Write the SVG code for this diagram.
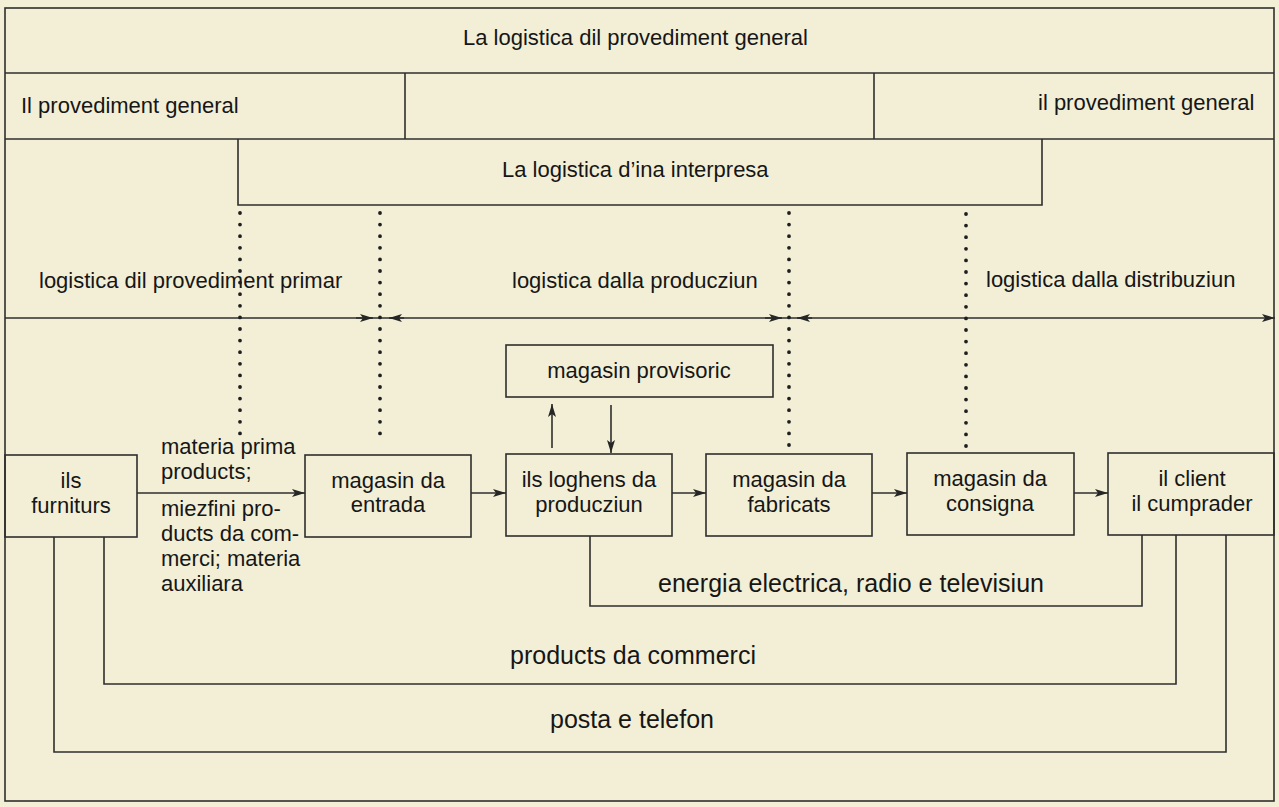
<svg xmlns="http://www.w3.org/2000/svg" width="1279" height="807" viewBox="0 0 1279 807">
<defs>
<marker id="ah" markerUnits="userSpaceOnUse" markerWidth="14" markerHeight="9" refX="13" refY="4" orient="auto">
<path d="M0,0 L13,4 L0,8 L3,4 Z" fill="#262626"/>
</marker>
<style>
.ln{fill:none;stroke:#2e2e2e;stroke-width:1.6}
.bx{fill:none;stroke:#2e2e2e;stroke-width:1.6}
.dot{fill:none;stroke:#1e1e1e;stroke-width:3.8;stroke-linecap:round;stroke-dasharray:0 11.6}
.ar{fill:none;stroke:#2e2e2e;stroke-width:1.6;marker-end:url(#ah)}
text{font-family:"Liberation Sans",Arial,sans-serif;font-size:22px;fill:#161616}
.c{text-anchor:middle}
.lp{font-size:25px}
</style>
</defs>
<rect x="0" y="0" width="1279" height="807" fill="#f2efd6"/>

<g id="frame">
<rect class="bx" x="5" y="8" width="1269" height="793"/>
</g>

<g id="band-general">
<line class="ln" x1="5" y1="73" x2="1274" y2="73"/>
<text x="463" y="45">La logistica dil provediment general</text>
</g>

<g id="band-provediment">
<line class="ln" x1="405" y1="73" x2="405" y2="139"/>
<line class="ln" x1="874" y1="73" x2="874" y2="139"/>
<line class="ln" x1="5" y1="139" x2="1274" y2="139"/>
<text x="21" y="113">Il provediment general</text>
<text x="1038" y="110">il provediment general</text>
</g>

<g id="band-interpresa">
<path class="ln" d="M238,139 V205 H1042 V139"/>
<text x="502" y="177">La logistica d’ina interpresa</text>
</g>

<g id="band-logistica">
<text x="39" y="288">logistica dil provediment primar</text>
<text x="512" y="288">logistica dalla producziun</text>
<text x="986" y="287">logistica dalla distribuziun</text>
</g>

<g id="node-furniturs">
<rect class="bx" x="5" y="455" width="132" height="82"/>
<text class="c" x="71" y="488">ils</text>
<text class="c" x="71" y="513">furniturs</text>
</g>

<g id="label-materia">
<text x="161" y="454">materia prima</text>
<text x="161" y="479">products;</text>
<text x="161" y="516">miezfini pro-</text>
<text x="161" y="541">ducts da com-</text>
<text x="161" y="566">merci; materia</text>
<text x="161" y="591">auxiliara</text>
</g>

<g id="node-entrada">
<rect class="bx" x="305" y="455" width="166" height="82"/>
<text class="c" x="388" y="488">magasin da</text>
<text class="c" x="388" y="512">entrada</text>
</g>

<g id="node-provisoric">
<rect class="bx" x="506" y="345" width="267" height="52"/>
<text class="c" x="639" y="378">magasin provisoric</text>
</g>

<g id="node-loghens">
<rect class="bx" x="506" y="454" width="166" height="82"/>
<text class="c" x="589" y="487">ils loghens da</text>
<text class="c" x="589" y="512">producziun</text>
</g>

<g id="node-fabricats">
<rect class="bx" x="706" y="454" width="166" height="82"/>
<text class="c" x="789" y="487">magasin da</text>
<text class="c" x="789" y="512">fabricats</text>
</g>

<g id="node-consigna">
<rect class="bx" x="907" y="453" width="167" height="82"/>
<text class="c" x="990" y="486">magasin da</text>
<text class="c" x="990" y="511">consigna</text>
</g>

<g id="node-client">
<rect class="bx" x="1108" y="453" width="166" height="82"/>
<text class="c" x="1192" y="486">il client</text>
<text class="c" x="1192" y="511">il cumprader</text>
</g>

<g id="connectors">
<line class="ar" x1="5" y1="318" x2="1275" y2="318"/>
<line class="ar" x1="356" y1="318" x2="373" y2="318"/>
<line class="ar" x1="404" y1="318" x2="389" y2="318"/>
<line class="ar" x1="765" y1="318" x2="782" y2="318"/>
<line class="ar" x1="812" y1="318" x2="797" y2="318"/>
<line class="dot" x1="240" y1="213" x2="240" y2="435"/>
<line class="dot" x1="380" y1="213" x2="380" y2="445"/>
<line class="dot" x1="789" y1="213" x2="789" y2="451"/>
<line class="dot" x1="966" y1="214" x2="966" y2="451"/>
<line class="ar" x1="137" y1="493" x2="305" y2="493"/>
<line class="ar" x1="471" y1="493" x2="506" y2="493"/>
<line class="ar" x1="672" y1="493" x2="706" y2="493"/>
<line class="ar" x1="872" y1="493" x2="907" y2="493"/>
<line class="ar" x1="1074" y1="493" x2="1108" y2="493"/>
<line class="ar" x1="552" y1="448" x2="552" y2="404"/>
<line class="ar" x1="611" y1="405" x2="611" y2="453"/>
<path class="ln" d="M590,536 V606 H1142 V535"/>
<path class="ln" d="M104,537 V684 H1176 V535"/>
<path class="ln" d="M54,537 V752 H1226 V535"/>
</g>

<g id="loop-labels">
<text class="lp" x="658" y="592" textLength="386">energia electrica, radio e televisiun</text>
<text class="lp c" x="633" y="664">products da commerci</text>
<text class="lp c" x="632" y="728">posta e telefon</text>
</g>
</svg>
